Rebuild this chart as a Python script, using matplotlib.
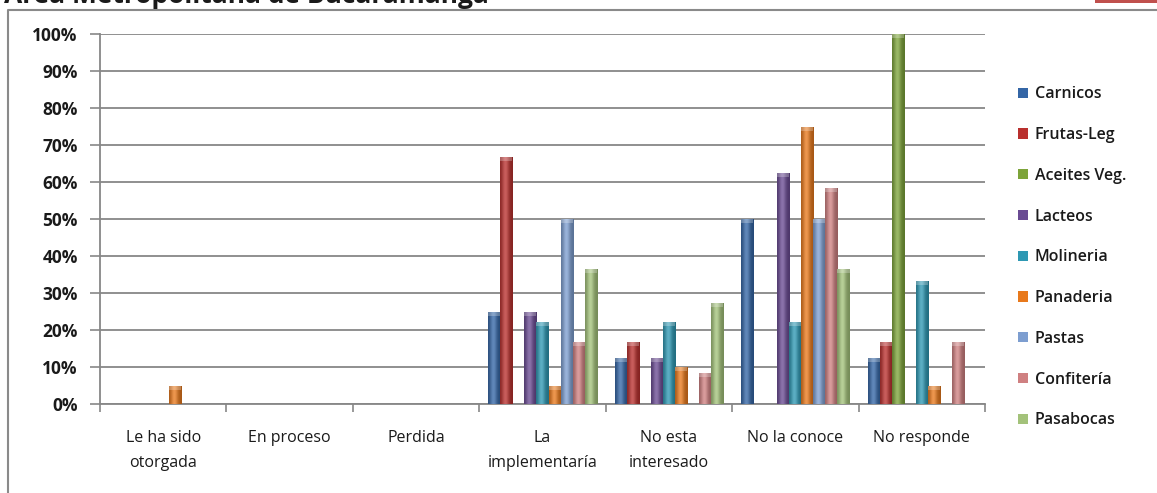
import numpy as np
import matplotlib
matplotlib.use("Agg")
import matplotlib.pyplot as plt
from matplotlib.patches import Rectangle
from matplotlib.lines import Line2D
from matplotlib.colors import to_rgb

plt.rcParams['font.family'] = ['Open Sans', 'DejaVu Sans']

# --- data -------------------------------------------------------------
categories = ["Le ha sido\notorgada", "En proceso", "Perdida", "La\nimplementaría",
              "No esta\ninteresado", "No la conoce", "No responde"]
series_names = ["Carnicos", "Frutas-Leg", "Aceites Veg.", "Lacteos", "Molineria",
                "Panaderia", "Pastas", "Confitería", "Pasabocas"]

carnicos   = [0, 0, 0, 25.0, 12.5, 50.0, 12.5]
frutas_leg = [0, 0, 0, 66.7, 16.7, 0, 16.7]
aceites    = [0, 0, 0, 0, 0, 0, 100.0]
lacteos    = [0, 0, 0, 25.0, 12.5, 62.5, 0]
molineria  = [0, 0, 0, 22.2, 22.2, 22.2, 33.3]
panaderia  = [5.0, 0, 0, 5.0, 10.0, 75.0, 5.0]
pastas     = [0, 0, 0, 50.0, 0, 50.0, 0]
confiteria = [0, 0, 0, 16.7, 8.3, 58.3, 16.7]
pasabocas  = [0, 0, 0, 36.4, 27.3, 36.4, 0]

values = [carnicos, frutas_leg, aceites, lacteos, molineria,
          panaderia, pastas, confiteria, pasabocas]
colors = ["#3466A6", "#B9302E", "#7DA43A", "#6A4B93", "#2E98B3",
          "#E8791C", "#7D9ED0", "#CF8081", "#A3C27A"]

yticks = np.arange(0, 101, 10)
ytick_labels = [f"{v}%" for v in yticks]

# --- figure -----------------------------------------------------------
W, H = 1157, 493
fig = plt.figure(figsize=(W / 100, H / 100), dpi=100)
ax = fig.add_axes([100 / W, 1 - 404 / H, 885 / W, 370 / H])

grid_col = "#878787"
text_col = "#1a1a1a"
n = len(series_names)
width = 1.0 / (n + 1.5)
x = np.arange(len(categories))


def shade_profile(rgb, npts=48):
    """Horizontal cylinder-like shading: darker edges, lighter centre."""
    t = np.linspace(0, 1, npts)
    light = np.exp(-((t - 0.42) / 0.28) ** 2)
    base = np.array(rgb)
    dark = base * 0.72
    hi = base + (1 - base) * 0.22
    prof = dark[None, :] * (1 - light[:, None]) + hi[None, :] * light[:, None]
    return np.clip(prof[None, :, :], 0, 1)


for j, (name, vals, col) in enumerate(zip(series_names, values, colors)):
    pos = x + (j - (n - 1) / 2) * width
    bars = ax.bar(pos, vals, width=width, color=col, linewidth=0,
                  label=name, zorder=3)
    img = shade_profile(to_rgb(col))
    for b in bars:
        h = b.get_height()
        if h <= 0:
            continue
        x0 = b.get_x()
        im = ax.imshow(img, extent=(x0, x0 + b.get_width(), 0, h),
                       aspect='auto', interpolation='bilinear', zorder=4)
        im.set_clip_path(b)
        cap = min(1.1, h)
        ax.add_patch(Rectangle((x0, h - cap), b.get_width(), cap,
                               facecolor="white", alpha=0.25, linewidth=0,
                               zorder=5))

ax.set_xlim(-0.5, len(categories) - 0.5)
ax.set_ylim(0, 100)

ax.set_yticks(yticks)
ax.set_yticklabels(ytick_labels)
ax.yaxis.grid(True, color=grid_col, linewidth=1.3, zorder=0)
ax.set_axisbelow(True)

ax.set_xticks(x)
ax.set_xticklabels(categories, linespacing=1.75, fontsize=11.5, color=text_col)
ax.set_xticks(np.arange(-0.5, len(categories)), minor=True)
ax.tick_params(axis='x', which='major', length=0, pad=18.5)
ax.tick_params(axis='x', which='minor', length=6, width=1.2, color=grid_col)
ax.tick_params(axis='y', length=7, width=1.2, color=grid_col, pad=9,
               labelsize=12.5)
for lab in ax.get_yticklabels():
    lab.set_fontweight('bold')
    lab.set_color(text_col)

for s in ("top", "right"):
    ax.spines[s].set_visible(False)
for s in ("left", "bottom"):
    ax.spines[s].set_color(grid_col)
    ax.spines[s].set_linewidth(1.3)

handles = [Rectangle((0, 0), 1, 1, facecolor=c, edgecolor="none") for c in colors]
leg = fig.legend(handles, series_names, loc='upper left',
                 bbox_to_anchor=(1004 / W, 1 - 72 / H), frameon=False,
                 handlelength=0.62, handleheight=0.62, handletextpad=0.4,
                 labelspacing=1.55, prop={'size': 11.5, 'weight': 'semibold'})
for t in leg.get_texts():
    t.set_color(text_col)

# chart border and header strip
fig.add_artist(Line2D([8 / W, 8 / W, 1.0], [0.0, 1 - 9.5 / H, 1 - 9.5 / H],
                      transform=fig.transFigure, color="#8a8a8a", linewidth=1.5))
fig.add_artist(Rectangle((1095 / W, 1 - 3.3 / H), 62 / W, 3.3 / H,
                         transform=fig.transFigure, facecolor="#C0504D",
                         edgecolor="none"))
fig.text(4 / W, 1 - 3 / H, "Área Metropolitana de Bucaramanga",
         fontsize=19, fontweight='bold', color=text_col,
         ha='left', va='baseline')

fig.savefig("out.png", dpi=100)
